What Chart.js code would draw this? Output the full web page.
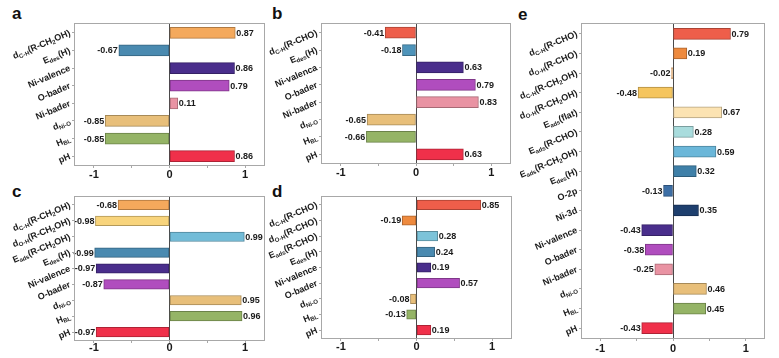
<!DOCTYPE html>
<html>
<head>
<meta charset="utf-8">
<script src="https://cdn.jsdelivr.net/npm/chart.js@4/dist/chart.umd.min.js"></script>
<style>
  html, body { margin:0; padding:0; background:#fff; }
  #wrap { position:relative; width:779px; height:358px; overflow:hidden; }
  canvas { position:absolute; }
  .lt { position:absolute; font:bold 17px "Liberation Sans", Arial, sans-serif; line-height:17px; color:#111; }
</style>
</head>
<body>
<div id="wrap">
  <div class="lt" style="left:12px;top:5px">a</div>
  <div class="lt" style="left:272px;top:5px">b</div>
  <div class="lt" style="left:12px;top:183px">c</div>
  <div class="lt" style="left:272px;top:183px">d</div>
  <div class="lt" style="left:518px;top:6px">e</div>
</div>
<script>
// ---------- data ----------
const labelsA = ["d_{C-H}(R-CH_{2}OH)", "E_{des}(H)", "Ni-valence", "O-bader", "Ni-bader", "d_{Ni-O}", "H_{BL}", "pH"];
const valuesA = [0.87, -0.67, 0.86, 0.79, 0.11, -0.85, -0.85, 0.86];

const labelsB = ["d_{C-H}(R-CHO)", "E_{des}(H)", "Ni-valenca", "O-bader", "Ni-bader", "d_{Ni-O}", "H_{BL}", "pH"];
const valuesB = [-0.41, -0.18, 0.63, 0.79, 0.83, -0.65, -0.66, 0.63];

const labelsC = ["d_{C-H}(R-CH_{2}OH)", "d_{O-H}(R-CH_{2}OH)", "E_{ads}(R-CH_{2}OH)", "E_{des}(H)", "Ni-valence", "O-bader", "d_{Ni-O}", "H_{BL}", "pH"];
const valuesC = [-0.68, -0.98, 0.99, -0.99, -0.97, -0.87, 0.95, 0.96, -0.97];

const labelsD = ["d_{C-H}(R-CHO)", "d_{O-H}(R-CHO)", "E_{ads}(R-CHO)", "E_{des}(H)", "Ni-valence", "O-bader", "d_{Ni-O}", "H_{BL}", "pH"];
const valuesD = [0.85, -0.19, 0.28, 0.24, 0.19, 0.57, -0.08, -0.13, 0.19];

const labelsE = ["d_{C-H}(R-CHO)", "d_{O-H}(R-CHO)", "d_{C-H}(R-CH_{2}OH)", "d_{O-H}(R-CH_{2}OH)", "E_{ads}(flat)", "E_{ads}(R-CHO)", "E_{ads}(R-CH_{2}OH)", "E_{des}(H)", "O-2p", "Ni-3d", "Ni-valence", "O-bader", "Ni-bader", "d_{Ni-O}", "H_{BL}", "pH"];
const valuesE = [0.79, 0.19, -0.02, -0.48, 0.67, 0.28, 0.59, 0.32, -0.13, 0.35, -0.43, -0.38, -0.25, 0.46, 0.45, -0.43];

const xTickValues = [-1, -0.5, 0, 0.5, 1];

// ---------- styles ----------
const colorsA = ['#F4A95C','#4A8AB0','#4A2E8C','#B04DBE','#E993A3','#E8BF7A','#95B466','#F0304A'];
const colorsB = ['#EE5E4A','#4E94BA','#4A2E8C','#B04DBE','#E993A3','#E8BF7A','#95B466','#F0304A'];
const colorsC = ['#F4A95C','#F8D47C','#72BCD8','#4A8AB0','#4A2E8C','#B04DBE','#E8BF7A','#95B466','#F0304A'];
const colorsD = ['#EE5E4A','#EE8A3E','#7CC3D9','#4A8AB0','#4A2E8C','#B04DBE','#E8BF7A','#95B466','#F0304A'];
const colorsE = ['#EE5E4A','#EE8A3E','#F4A95C','#F5C55E','#FCE3B2','#A9DCDD','#6BB7D9','#3F80A8','#3D6FA6','#1E3F6E','#4A2E8C','#B04DBE','#E993A3','#E8BF7A','#95B466','#F0304A'];

const FONT = '"Liberation Sans", Arial, sans-serif';

function darken(hex, f) {
  const n = parseInt(hex.slice(1), 16);
  const r = Math.round(((n >> 16) & 255) * f), g = Math.round(((n >> 8) & 255) * f), b = Math.round((n & 255) * f);
  return `rgb(${r},${g},${b})`;
}

function parseRich(s) {
  const out = []; const re = /_\{([^}]*)\}/g; let last = 0, m;
  while ((m = re.exec(s))) {
    if (m.index > last) out.push({ t: s.slice(last, m.index), sub: false });
    out.push({ t: m[1], sub: true }); last = re.lastIndex;
  }
  if (last < s.length) out.push({ t: s.slice(last), sub: false });
  return out;
}

function drawRich(ctx, s, x, y, angle) {
  const segs = parseRich(s);
  const mainF = 'bold 9px ' + FONT, subF = 'bold 6px ' + FONT;
  let total = 0;
  segs.forEach(sg => { ctx.font = sg.sub ? subF : mainF; sg.w = ctx.measureText(sg.t).width; total += sg.w; });
  ctx.save();
  ctx.translate(x, y); ctx.rotate(angle);
  ctx.fillStyle = '#1a1a1a'; ctx.textAlign = 'left'; ctx.textBaseline = 'middle';
  let cx = -total;
  segs.forEach(sg => { ctx.font = sg.sub ? subF : mainF; ctx.fillText(sg.t, cx, sg.sub ? 2.5 : 0); cx += sg.w; });
  ctx.restore();
}

const panelPlugin = {
  id: 'panel',
  afterDatasetsDraw(chart) {
    const ctx = chart.ctx, a = chart.chartArea;
    const meta = chart.getDatasetMeta(0);
    const vals = chart.data.datasets[0].data;
    ctx.save();
    ctx.font = 'bold 9px ' + FONT; ctx.fillStyle = '#1a1a1a'; ctx.textBaseline = 'middle';
    meta.data.forEach((el, i) => {
      const v = vals[i];
      const txt = v.toFixed(2);
      if (v >= 0) { ctx.textAlign = 'left'; ctx.fillText(txt, el.x + 1, el.y + 0.5); }
      else { ctx.textAlign = 'right'; ctx.fillText(txt, el.x - 1, el.y + 0.5); }
    });
    // frame
    ctx.strokeStyle = '#a8a8a8'; ctx.lineWidth = 1;
    ctx.strokeRect(Math.round(a.left) - 0.5, Math.round(a.top) - 0.5, Math.round(a.right - a.left) + 1, Math.round(a.bottom - a.top) + 1);
    ctx.restore();
    // y labels
    const ys = chart.scales.y;
    chart.data.labels.forEach((lab, i) => {
      drawRich(ctx, lab, a.left - 5, ys.getPixelForValue(i), -23 * Math.PI / 180);
    });
  }
};

const panels = [
  { left: 0,   top: 0,   w: 268, h: 185, yW: 75, padTop: 24, padRight: 4,  xH: 20, tp: 0,  bar: 11,  labels: labelsA, values: valuesA, colors: colorsA },
  { left: 260, top: 0,   w: 260, h: 185, yW: 62, padTop: 24, padRight: 10, xH: 22, tp: 0,  bar: 11,  labels: labelsB, values: valuesB, colors: colorsB },
  { left: 0,   top: 185, w: 268, h: 173, yW: 75, padTop: 12, padRight: 4,  xH: 18, tp: -2, bar: 9.5, labels: labelsC, values: valuesC, colors: colorsC },
  { left: 260, top: 185, w: 260, h: 173, yW: 62, padTop: 12, padRight: 9,  xH: 20, tp: -1, bar: 9.5, labels: labelsD, values: valuesD, colors: colorsD },
  { left: 520, top: 0,   w: 259, h: 358, yW: 62, padTop: 24, padRight: 15, xH: 20, tp: 1,  bar: 11,  labels: labelsE, values: valuesE, colors: colorsE }
];

const wrap = document.getElementById('wrap');
panels.forEach(p => {
  const cv = document.createElement('canvas');
  cv.width = p.w; cv.height = p.h;
  cv.style.left = p.left + 'px'; cv.style.top = p.top + 'px';
  cv.style.width = p.w + 'px'; cv.style.height = p.h + 'px';
  wrap.appendChild(cv);
  new Chart(cv, {
    type: 'bar',
    data: {
      labels: p.labels,
      datasets: [{
        data: p.values,
        backgroundColor: p.colors,
        borderColor: p.colors.map(c => darken(c, 0.72)),
        borderWidth: 1,
        borderSkipped: false,
        barThickness: p.bar
      }]
    },
    options: {
      indexAxis: 'y',
      responsive: false,
      animation: false,
      devicePixelRatio: 1,
      layout: { padding: { top: p.padTop, right: p.padRight, left: 0, bottom: 0 } },
      plugins: { legend: { display: false }, tooltip: { enabled: false } },
      scales: {
        x: {
          type: 'linear', min: -1.25, max: 1.25,
          afterBuildTicks: s => { s.ticks = xTickValues.map(v => ({ value: v })); },
          afterFit: s => { s.height = p.xH; },
          border: { display: false },
          grid: {
            drawOnChartArea: true, drawTicks: true, tickLength: 3,
            color: c => (c.tick && c.tick.value === 0) ? '#4a4a4a' : 'rgba(0,0,0,0)',
            tickColor: '#a8a8a8', lineWidth: 1
          },
          ticks: {
            padding: p.tp, color: '#1a1a1a',
            font: { family: FONT, size: 11, weight: 'bold' },
            callback: v => Number.isInteger(v) ? String(v) : ''
          }
        },
        y: {
          type: 'category',
          afterFit: s => { s.width = p.yW; },
          border: { display: false },
          grid: { offset: false, drawOnChartArea: false, drawTicks: true, tickLength: 3, tickColor: '#a8a8a8', color: '#a8a8a8' },
          ticks: { display: false }
        }
      }
    },
    plugins: [panelPlugin]
  });
});
</script>
</body>
</html>
